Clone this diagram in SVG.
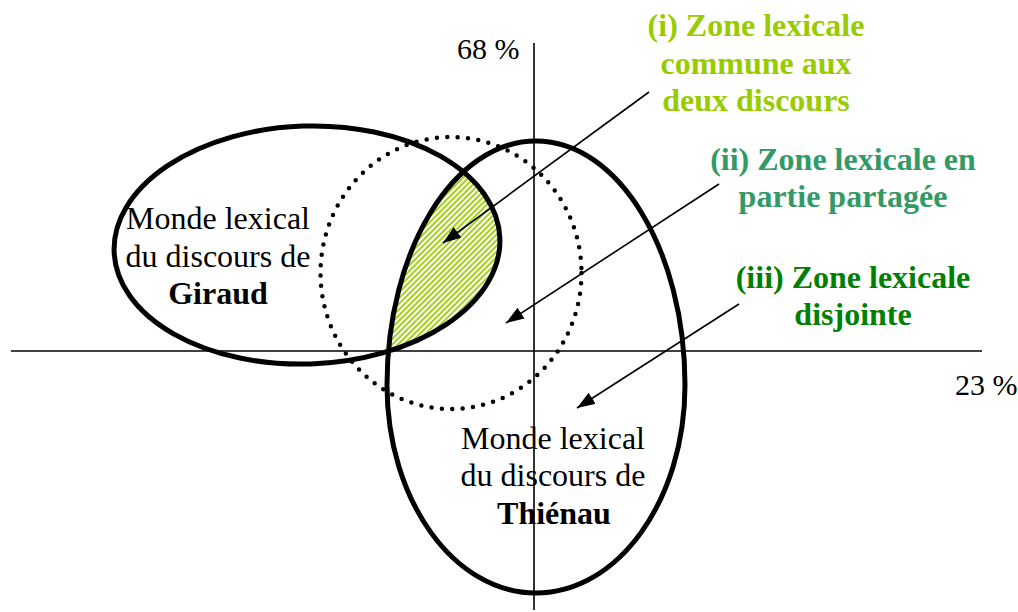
<svg xmlns="http://www.w3.org/2000/svg" width="1018" height="612" viewBox="0 0 1018 612">
<style>
.axis{stroke:#000;stroke-width:1.6;fill:none}
.shape{stroke:#000;stroke-width:5;fill:none}
.dots{stroke:#000;stroke-width:4.5;fill:none;stroke-linecap:round;stroke-dasharray:0 10.4}
.arrow{stroke:#000;stroke-width:1.6;fill:none;marker-end:url(#ah)}
.t{font-family:"Liberation Serif","Times New Roman",serif;font-size:32px;fill:#000;text-anchor:middle}
.b{font-weight:bold}
.pct{font-family:"Liberation Serif","Times New Roman",serif;font-size:30px;fill:#000}
.g1{fill:#99cc00}
.g2{fill:#339966}
.g3{fill:#008000}
</style>
<defs>
<pattern id="hatch" width="4" height="4" patternUnits="userSpaceOnUse" patternTransform="rotate(45)">
<rect width="4" height="4" fill="#fff"/>
<line x1="1" y1="0" x2="1" y2="4" stroke="#99cc00" stroke-width="1.8"/>
</pattern>
<clipPath id="clipG">
<ellipse cx="307" cy="245" rx="193" ry="119" transform="rotate(-2 307 245)"/>
</clipPath>
<marker id="ah" markerWidth="20" markerHeight="14" refX="18" refY="6.5" orient="auto" markerUnits="userSpaceOnUse">
<path d="M0,0 L18,6.5 L0,13 Z" fill="#000"/>
</marker>
</defs>
<rect width="1018" height="612" fill="#fff"/>

<g id="zone-commune">
<path d="M536,141 C618.3,141 685,250.2 685,385 C685,499.9 618.3,593 536,593 C453.7,593 387,499.9 387,385 C387,250.2 453.7,141 536,141 Z" fill="url(#hatch)" clip-path="url(#clipG)"/>
</g>

<g id="axes">
<line class="axis" x1="11" y1="351" x2="982" y2="351"/>
<line class="axis" x1="534" y1="43" x2="534" y2="610"/>
<text class="pct" x="457" y="59">68 %</text>
<text class="pct" x="955" y="395">23 %</text>
</g>

<g id="zone-partagee">
<ellipse class="dots" cx="451" cy="273" rx="130.5" ry="136"/>
</g>

<g id="giraud">
<ellipse class="shape" cx="307" cy="245" rx="193" ry="119" transform="rotate(-2 307 245)"/>
<text class="t" x="218" y="229">Monde lexical</text>
<text class="t" x="218" y="267">du discours de</text>
<text class="t b" x="218" y="304">Giraud</text>
</g>

<g id="thienau">
<path class="shape" d="M536,141 C618.3,141 685,250.2 685,385 C685,499.9 618.3,593 536,593 C453.7,593 387,499.9 387,385 C387,250.2 453.7,141 536,141 Z"/>
<text class="t" x="553" y="449">Monde lexical</text>
<text class="t" x="553" y="486">du discours de</text>
<text class="t b" x="554" y="524">Thiénau</text>
</g>

<g id="label-i">
<text class="t b g1" x="756" y="36">(i) Zone lexicale</text>
<text class="t b g1" x="756" y="74">commune aux</text>
<text class="t b g1" x="756" y="111">deux discours</text>
</g>
<g id="label-ii">
<text class="t b g2" x="843" y="170">(ii) Zone lexicale en</text>
<text class="t b g2" x="843" y="207">partie partagée</text>
</g>
<g id="label-iii">
<text class="t b g3" x="853" y="288">(iii) Zone lexicale</text>
<text class="t b g3" x="853" y="325">disjointe</text>
</g>

<g id="connectors">
<line class="arrow" x1="649" y1="92" x2="443" y2="243"/>
<line class="arrow" x1="719" y1="184" x2="506" y2="323"/>
<line class="arrow" x1="739" y1="304" x2="577" y2="408"/>
</g>
</svg>
